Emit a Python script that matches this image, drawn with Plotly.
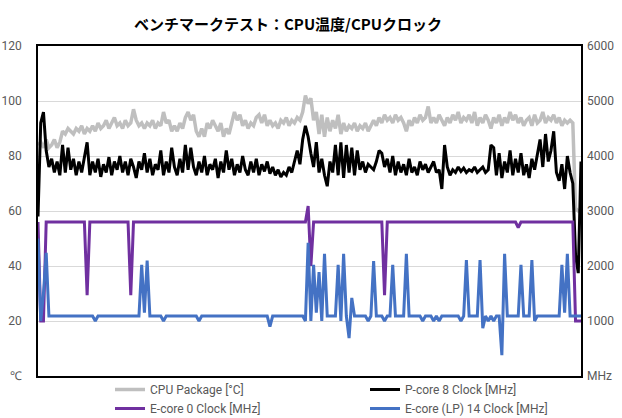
import plotly.graph_objects as go

# time index (seconds)
t = list(range(200))

cpu_temp = [
    84, 85, 83, 86, 83, 84, 86, 83, 85, 89, 88, 90, 89, 88, 90, 89, 91, 88, 90, 89,
    91, 89, 92, 90, 91, 93, 90, 92, 94, 91, 92, 90, 93, 91, 92, 97, 93, 91, 92, 90,
    92, 91, 93, 90, 92, 91, 96, 92, 93, 89, 91, 89, 92, 90, 94, 96, 93, 95, 89, 87,
    90, 87, 92, 90, 93, 91, 89, 92, 87, 90, 88, 92, 96, 93, 95, 91, 93, 90, 92, 91,
    94, 95, 92, 95, 91, 93, 91, 92, 90, 93, 92, 94, 91, 93, 92, 94, 93, 96, 102, 99,
    101, 93, 96, 88, 95, 87, 94, 89, 93, 90, 95, 88, 92, 89, 91, 90, 92, 89, 91, 90,
    92, 89, 91, 93, 91, 94, 92, 95, 93, 94, 92, 95, 93, 94, 92, 89, 93, 91, 94, 92,
    95, 93, 94, 98, 92, 94, 92, 95, 93, 91, 94, 92, 95, 93, 96, 92, 94, 93, 95, 92,
    96, 91, 94, 92, 95, 93, 90, 94, 92, 95, 91, 94, 92, 96, 93, 95, 92, 94, 91, 93,
    94, 91, 95, 92, 93, 96, 92, 94, 93, 95, 92, 94, 91, 93, 92, 93, 92, 61, 60, 60,
]

pcore8 = [
    2900, 4600, 4800, 4100, 3800, 3950, 3700, 3900, 3650, 4200,
    3700, 4150, 3750, 3950, 3650, 3900, 3700, 4000, 4250, 3650,
    3900, 3700, 3950, 3620, 3850, 3700, 3980, 3650, 3900, 3750,
    4000, 3700, 3900, 3650, 3950, 3800, 3600, 3900, 3750, 4050,
    3700, 3950, 3650, 3850, 3750, 4100, 3650, 3900, 3700, 4150,
    3800, 3650, 3950, 3700, 4200, 3750, 4150, 3800, 3650, 3900,
    3700, 4000, 3650, 3850, 3750, 3950, 3600, 3900, 3700, 4100,
    3750, 3950, 3650, 3850, 3700, 4000, 3750, 3650, 3900, 3700,
    3950, 3650, 3850, 3720, 3900, 3680, 3800, 3650, 3750, 3620,
    3700, 3650, 3800, 3700, 3900, 4100, 3850, 4300, 4550, 4350,
    4050, 3800, 4250, 3700, 3950, 3650, 3450, 3900, 3700, 4200,
    3650, 4250, 3600, 4200, 3700, 4150, 3650, 4100, 3750, 3900,
    3700, 3850, 3800, 3750, 3900, 4100, 4050, 3800, 3950, 3700,
    4000, 3650, 3900, 3700, 3850, 3650, 3950, 3700, 3800, 3650,
    3900, 3750, 3850, 3700, 3800, 3900, 3700, 3750, 3400, 4200,
    3800, 3650, 3750, 3700, 3800, 3720, 3780, 3700, 3750, 3720,
    3800, 3700, 3750, 3800, 3700, 3750, 4200, 4150, 3650, 4050,
    3600, 3900, 3700, 4100, 3650, 3950, 3700, 4050, 3650, 3850,
    3600, 3950, 3750, 4050, 4300, 3800, 4400, 3900, 4100, 4450,
    3700, 3550, 3850, 3400, 4000, 3700, 3500, 2200, 1870, 3900,
]

ecore0 = [
    2800, 1000, 1000, 2800, 2800, 2800, 2800, 2800, 2800, 2800, 2800, 2800, 2800, 2800, 2800, 2800, 2800, 2800, 1470, 2800,
    2800, 2800, 2800, 2800, 2800, 2800, 2800, 2800, 2800, 2800, 2800, 2800, 2800, 2800, 1470, 2800, 2800, 2800, 2800, 2800,
    2800, 2800, 2800, 2800, 2800, 2800, 2800, 2800, 2800, 2800, 2800, 2800, 2800, 2800, 2800, 2800, 2800, 2800, 2800, 2800,
    2800, 2800, 2800, 2800, 2800, 2800, 2800, 2800, 2800, 2800, 2800, 2800, 2800, 2800, 2800, 2800, 2800, 2800, 2800, 2800,
    2800, 2800, 2800, 2800, 2800, 2800, 2800, 2800, 2800, 2800, 2800, 2800, 2800, 2800, 2800, 2800, 2800, 2800, 2800, 3090,
    2000, 2800, 2800, 2800, 2800, 2800, 2800, 2800, 2800, 2800, 2800, 2800, 2800, 2800, 2800, 2800, 2800, 2800, 2800, 2800,
    2800, 2800, 2800, 2800, 2800, 2800, 2800, 1470, 2800, 2800, 2800, 2800, 2800, 2800, 2800, 2800, 2800, 2800, 2800, 2800,
    2800, 2800, 2800, 2800, 2800, 2800, 2800, 2800, 2800, 2800, 2800, 2800, 2800, 2800, 2800, 2800, 2800, 2800, 2800, 2800,
    2800, 2800, 2800, 2800, 2800, 2800, 2800, 2800, 2800, 2800, 2800, 2800, 2800, 2800, 2800, 2800, 2700, 2800, 2800, 2800,
    2800, 2800, 2800, 2800, 2800, 2800, 2800, 2800, 2800, 2800, 2800, 2800, 2800, 2800, 2800, 2800, 2800, 1000, 1000, 1000,
]

ecore_lp14 = [
    2500, 1000, 1500, 2240, 1090, 1090, 1090, 1090, 1090, 1090, 1090, 1090, 1090, 1090, 1090, 1090, 1090, 1090, 1090, 1090,
    1090, 1000, 1090, 1090, 1090, 1090, 1090, 1090, 1090, 1090, 1090, 1090, 1090, 1090, 1090, 1090, 1090, 1090, 2020, 1150,
    2100, 1090, 1090, 1090, 1090, 1090, 1000, 1090, 1090, 1090, 1090, 1090, 1090, 1090, 1090, 1090, 1090, 1090, 1090, 1000,
    1090, 1090, 1090, 1090, 1090, 1090, 1090, 1090, 1090, 1090, 1090, 1090, 1090, 1090, 1090, 1090, 1090, 1090, 1090, 1090,
    1090, 1090, 1090, 1090, 1090, 900, 1090, 1090, 1090, 1090, 1090, 1090, 1090, 1090, 1090, 1090, 1090, 1090, 1000, 2420,
    1000, 2020, 1150, 1890, 1000, 2220, 1090, 1090, 1090, 1090, 2020, 1000, 2220, 1090, 690, 1420, 1090, 1090, 1090, 1090,
    1090, 1000, 1090, 2090, 1090, 1090, 1090, 1000, 1090, 1090, 2020, 1090, 1090, 1090, 1090, 2220, 1090, 1090, 1090, 1090,
    1090, 1000, 1090, 1090, 1090, 1000, 1090, 1000, 1090, 1090, 1090, 1090, 1090, 1090, 1090, 1000, 1090, 2110, 1090, 1090,
    1090, 1090, 2110, 870, 1090, 1000, 1090, 1000, 1090, 1090, 380, 2220, 1090, 1090, 1090, 1090, 1090, 2020, 1090, 1090,
    1090, 2110, 1000, 1090, 1090, 1090, 1090, 1090, 1090, 1090, 1090, 1090, 2020, 1150, 2220, 1090, 1090, 1090, 1090, 1090,
]

left_ticks = [0, 20, 40, 60, 80, 100, 120]
left_labels = ["℃", "20", "40", "60", "80", "100", "120"]
right_ticks = [0, 1000, 2000, 3000, 4000, 5000, 6000]
right_labels = ["MHz", "1000", "2000", "3000", "4000", "5000", "6000"]

W, H = 622, 418
tick_font = dict(family="Liberation Sans Narrow, Roboto, sans-serif", size=12, color="#595959")
leg_font = dict(family="Liberation Sans Narrow, Roboto, sans-serif", size=12, color="#595959")

fig = go.Figure()
fig.add_trace(go.Scatter(x=t, y=cpu_temp, name="CPU Package [°C]", mode="lines",
                         line=dict(color="#bfbfbf", width=3.5), yaxis="y", legend="legend"))
fig.add_trace(go.Scatter(x=t, y=pcore8, name="P-core 8 Clock [MHz]", mode="lines",
                         line=dict(color="#000000", width=3), yaxis="y2", legend="legend2"))
fig.add_trace(go.Scatter(x=t, y=ecore0, name="E-core 0 Clock [MHz]", mode="lines",
                         line=dict(color="#7030a0", width=3), yaxis="y2", legend="legend"))
fig.add_trace(go.Scatter(x=t, y=ecore_lp14, name="E-core (LP) 14 Clock [MHz]", mode="lines",
                         line=dict(color="#4472c4", width=3), yaxis="y2", legend="legend2"))

leg_common = dict(orientation="v", xref="container", xanchor="left",
                  yref="container", yanchor="top", y=1 - 375 / H,
                  font=leg_font, tracegroupgap=0, itemwidth=30,
                  bgcolor="rgba(0,0,0,0)", borderwidth=0)

fig.update_layout(
    width=W, height=H,
    margin=dict(l=38, r=41, t=46, b=42, autoexpand=False),
    paper_bgcolor="white", plot_bgcolor="white",
    title=dict(text="<b>ベンチマークテスト：CPU温度/CPUクロック</b>",
               x=288 / W, xref="container", xanchor="center",
               y=1 - 25 / H, yref="container", yanchor="middle",
               font=dict(family="Noto Sans CJK JP", size=15, color="#000000")),
    xaxis=dict(range=[0, len(t) - 1], showticklabels=False, ticks="", showgrid=False,
               zeroline=False, showline=True, linecolor="#000000", linewidth=1.5, mirror=True),
    yaxis=dict(range=[0, 120], tickvals=left_ticks, ticktext=left_labels,
               showgrid=True, gridcolor="#d9d9d9", gridwidth=1, zeroline=False,
               showline=True, linecolor="#000000", linewidth=1.5, mirror=True,
               ticks="", ticklabelstandoff=12, tickfont=tick_font),
    yaxis2=dict(range=[0, 6000], tickvals=right_ticks, ticktext=right_labels,
                overlaying="y", side="right", showgrid=False, zeroline=False,
                ticks="", ticklabelstandoff=5, tickfont=tick_font),
    legend=dict(x=110 / W, **leg_common),
    legend2=dict(x=365 / W, **leg_common),
    showlegend=True,
)

fig.write_html("out.html")
